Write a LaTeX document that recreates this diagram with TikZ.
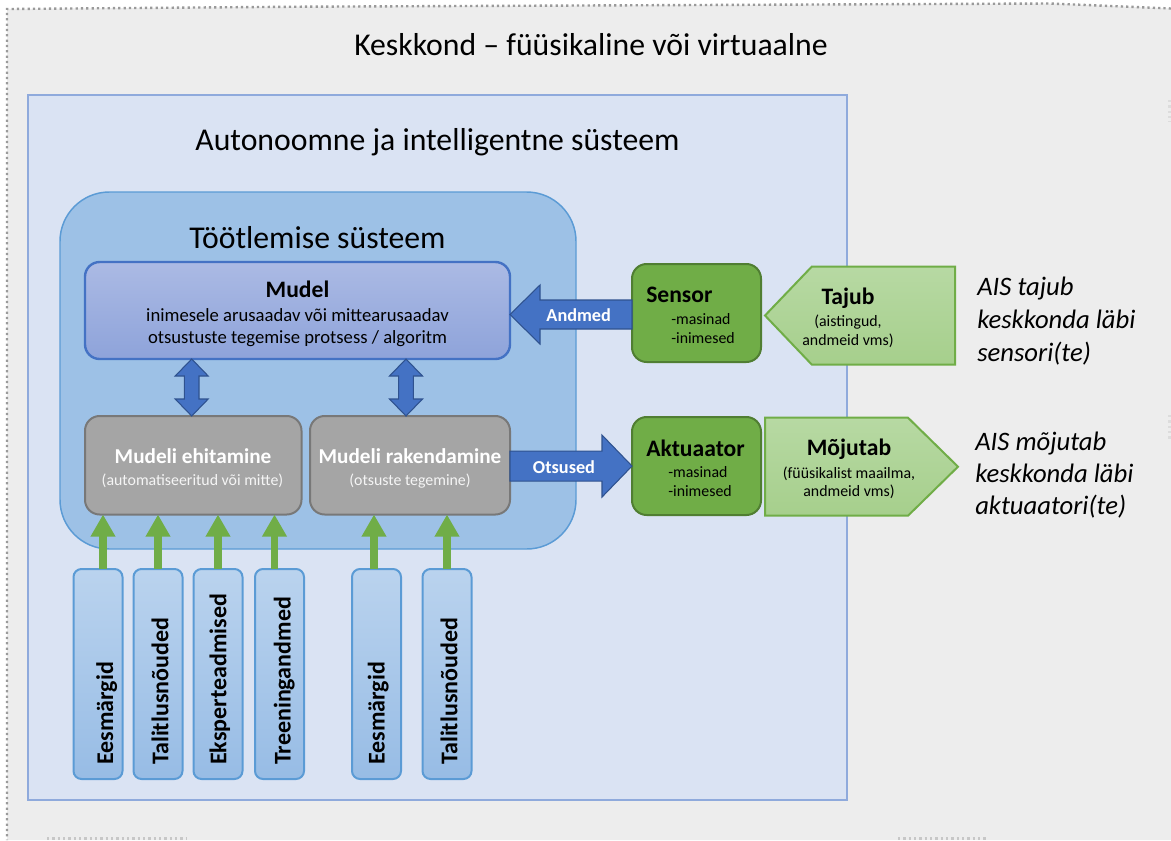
\documentclass[tikz,border=0pt]{standalone}
\usepackage{fontspec}
\setmainfont{Carlito}
\usetikzlibrary{calc,fit,arrows.meta}

\definecolor{panel}{HTML}{EDEDED}
\definecolor{dotgray}{HTML}{9A9A9A}
\definecolor{aisfill}{HTML}{DAE3F3}
\definecolor{aisedge}{HTML}{8FAADC}
\definecolor{procfill}{HTML}{9DC1E6}
\definecolor{procedge}{HTML}{5B9BD5}
\definecolor{modeltop}{HTML}{ABBAE4}
\definecolor{modelbot}{HTML}{8EA3DA}
\definecolor{accent}{HTML}{4472C4}
\definecolor{accentdark}{HTML}{2F528F}
\definecolor{greyfill}{HTML}{A5A5A5}
\definecolor{greyedge}{HTML}{787878}
\definecolor{leaf}{HTML}{70AD47}
\definecolor{leafdark}{HTML}{507E32}
\definecolor{paletop}{HTML}{B7D9A3}
\definecolor{palebot}{HTML}{A6CF8C}
\definecolor{intop}{HTML}{BAD3EE}
\definecolor{inbot}{HTML}{97BCE5}

\newcommand\fsz[1]{\fontsize{#1pt}{#1pt}\selectfont}

\tikzset{
  dotline/.style={draw=dotgray, line width=1.8pt, dash pattern=on 1.7pt off 2.3pt},
  bx/.style={inner sep=0pt, outer sep=0pt},
  aisbox/.style={bx, draw=aisedge, fill=aisfill, line width=2pt},
  procbox/.style={bx, draw=procedge, fill=procfill, line width=1.1pt, rounded corners=37pt},
  modelbox/.style={bx, draw=accent, top color=modeltop, bottom color=modelbot, line width=1.8pt, rounded corners=11pt},
  greybox/.style={bx, draw=greyedge, fill=greyfill, line width=1.5pt, rounded corners=11pt},
  leafbox/.style={bx, draw=leafdark, fill=leaf, line width=1.5pt, rounded corners=11pt},
  penta/.style={draw=leaf, top color=paletop, bottom color=palebot, line width=1.5pt, line join=miter},
  inbox/.style={bx, draw=procedge, top color=intop, bottom color=inbot, line width=1.5pt, rounded corners=6pt, minimum width=36.75pt, minimum height=157.5pt},
  blockarrow/.style={fill=accent, draw=accentdark, line width=0.8pt, line join=miter},
  feed/.style={draw=leaf, line width=5.5pt, -{Triangle[width=17.5pt,length=16.5pt]}},
  txt/.style={inner sep=0pt, anchor=base},
  ltxt/.style={inner sep=0pt, anchor=base west},
  big/.style={txt, font=\fsz{23.8}},
  head/.style={txt, font=\bfseries\fsz{17.7}},
  small/.style={font=\fsz{11.9}},
  greyhead/.style={txt, text=white, font=\bfseries\fsz{15.9}},
  greysub/.style={txt, text=white!96!black, font=\fsz{11.9}},
  arrowlabel/.style={txt, text=white, font=\bfseries\fsz{13.7}},
  note/.style={ltxt, font=\itshape\fsz{20}},
  vlabel/.style={inner sep=0pt, rotate=90, anchor=base west, font=\bfseries\fsz{18}}
}

% two-headed vertical block arrow between two points (top, bottom)
\newcommand\twoway[2]{%
  \draw[blockarrow] (#1) -- ($(#1)+(16.5,17)$) -- ($(#1)+(7.3,17)$)
    -- ($(#2)+(7.3,-17)$) -- ($(#2)+(16.5,-17)$) -- (#2)
    -- ($(#2)+(-16.5,-17)$) -- ($(#2)+(-7.3,-17)$)
    -- ($(#1)+(-7.3,17)$) -- ($(#1)+(-16.5,17)$) -- cycle;}

\begin{document}
\begin{tikzpicture}[x=0.75pt,y=-0.75pt]
\useasboundingbox (0,0) rectangle (1171,840);
\fill[white] (0,0) rectangle (1171,840);

% environment sheet
\fill[panel] (7,9) -- (300,6.7) -- (1050,3.5) -- (1171,8.5) -- (1171,840) -- (7,840) -- cycle;
\draw[dotline] (1171,8.5) -- (1050,3.5) -- (300,6.7) -- (7,9) -- (7,840);
\draw[dotline, draw=dotgray!55] (47,838.5) -- (187,838.5) (898,838.5) -- (987,838.5);
\draw[dotline, draw=dotgray!35] (1169.5,100) -- (1169.5,122) (1169.5,415) -- (1169.5,440);

% containers and blocks
\node[aisbox, fit={(28,95) (847,800)}] (ais) {};
\node[procbox, fit={(60,192) (576,549)}] (proc) {};
\node[modelbox, fit={(85,262) (510,359)}] (mudel) {};
\node[greybox, fit={(85,416) (301.5,514.5)}] (ehit) {};
\node[greybox, fit={(310,416) (510,514.5)}] (rak) {};
\node[leafbox, fit={(632,264) (761,362)}] (sensor) {};
\node[leafbox, fit={(632,417) (761,515)}] (akt) {};

% perception and action shapes
\draw[penta] (955,266.7) -- (811.7,266.7) -- (765,315.5) -- (811.7,364.5) -- (955,364.5) -- cycle;
\draw[penta] (765,417.7) -- (908,417.7) -- (958,466.7) -- (908,515.7) -- (765,515.7) -- cycle;

% data flow: sensor -> model
\coordinate (aS) at ($(sensor.west)+(0,1.5)$);
\coordinate (aT) at (mudel.east |- aS);
\draw[blockarrow] ($(aS)+(0,-14.5)$) -- ($(aT)+(30,-14.5)$) -- ($(aT)+(30,-29.5)$) -- (aT)
  -- ($(aT)+(30,29.5)$) -- ($(aT)+(30,14.5)$) -- ($(aS)+(0,14.5)$) -- cycle;

% decisions: applying the model -> actuator
\coordinate (oS) at ($(rak.east)+(0,0.8)$);
\coordinate (oT) at (akt.west |- oS);
\draw[blockarrow] ($(oS)+(0,-15)$) -- ($(oT)+(-30,-15)$) -- ($(oT)+(-30,-31)$) -- (oT)
  -- ($(oT)+(-30,31)$) -- ($(oT)+(-30,15)$) -- ($(oS)+(0,15)$) -- cycle;

% model <-> building / applying
\coordinate (c1) at (191.7,0);
\coordinate (c2) at (406,0);
\coordinate (d1t) at (mudel.south -| c1);
\coordinate (d1b) at (ehit.north -| c1);
\coordinate (d2t) at (mudel.south -| c2);
\coordinate (d2b) at (rak.north -| c2);
\twoway{d1t}{d1b}
\twoway{d2t}{d2b}

% inputs
\node[inbox] (in1) at (98,674) {};
\node[inbox] (in2) at (158,674) {};
\node[inbox] (in3) at (218,674) {};
\node[inbox] (in4) at (279.5,674) {};
\node[inbox] (in5) at (376.5,674) {};
\node[inbox] (in6) at (447,674) {};

\coordinate (f1) at ($(in1.north)+(5,0)$);
\coordinate (f2) at (in2.north);
\coordinate (f3) at (in3.north);
\coordinate (f4) at ($(in4.north)+(-5,0)$);
\coordinate (f5) at ($(in5.north)+(-2.5,0)$);
\coordinate (f6) at (in6.north);
\draw[feed] (f1) -- (f1 |- ehit.south);
\draw[feed] (f2) -- (f2 |- ehit.south);
\draw[feed] (f3) -- (f3 |- ehit.south);
\draw[feed] (f4) -- (f4 |- ehit.south);
\draw[feed] (f5) -- (f5 |- rak.south);
\draw[feed] (f6) -- (f6 |- rak.south);

\node[vlabel] (l1) at (113,765) {Eesmärgid};
\node[vlabel] (l2) at (168.3,765) {Talitlusnõuded};
\node[vlabel] (l3) at (226.3,765) {Eksperteadmised};
\node[vlabel] (l4) at (290.7,765) {Treeningandmed};
\node[vlabel] (l5) at (384.7,765) {Eesmärgid};
\node[vlabel] (l6) at (457.3,765) {Talitlusnõuded};

% titles
\node[big] (envtitle) at (591,55.5) {Keskkond – füüsikaline või virtuaalne};
\node[big] (aistitle) at (437.5,150.5) {Autonoomne ja intelligentne süsteem};
\node[big] (proctitle) at (317.5,248.5) {Töötlemise süsteem};

% model text
\node[head] (mudelA) at (297.5,297.8) {Mudel};
\node[txt, font=\fsz{14}] (mudelB) at (297.5,321.5) {inimesele arusaadav või mittearusaadav};
\node[txt, font=\fsz{14}] (mudelC) at (297.5,343) {otsustuste tegemise protsess / algoritm};

\node[greyhead] (ehitA) at (193,463.7) {Mudeli ehitamine};
\node[greysub] (ehitB) at (192.5,485) {(automatiseeritud või mitte)};
\node[greyhead] (rakA) at (410,463.7) {Mudeli rakendamine};
\node[greysub] (rakB) at (410,485) {(otsuste tegemine)};

\node[arrowlabel] (andmed) at (578.7,321) {Andmed};
\node[arrowlabel] (otsused) at (564,473.7) {Otsused};

% sensor / actuator
\node[ltxt, font=\bfseries\fsz{17.7}] (sensA) at (646,302.8) {Sensor};
\node[ltxt, small] (sensB) at (671,324.5) {-masinad};
\node[ltxt, small] (sensC) at (671,343.2) {-inimesed};

\node[head] (tajA) at (848,304.5) {Tajub};
\node[txt, small] (tajB) at (848,326.5) {(aistingud,};
\node[txt, small] (tajC) at (848,345.5) {andmeid vms)};

\node[head] (aktA) at (695.5,456) {Aktuaator};
\node[ltxt, small] (aktB) at (668,477) {-masinad};
\node[ltxt, small] (aktC) at (668,496) {-inimesed};

\node[head] (mojA) at (849,455.5) {Mõjutab};
\node[txt, small] (mojB) at (849,478) {(füüsikalist maailma,};
\node[txt, small] (mojC) at (849,496) {andmeid vms)};

% side notes
\node[note] (n1) at (977,295) {AIS tajub};
\node[note] (n2) at (977,328) {keskkonda läbi};
\node[note] (n3) at (977,361) {sensori(te)};
\node[note] (n4) at (975,450) {AIS mõjutab};
\node[note] (n5) at (975,482) {keskkonda läbi};
\node[note] (n6) at (975,514) {aktuaatori(te)};
\end{tikzpicture}
\end{document}
